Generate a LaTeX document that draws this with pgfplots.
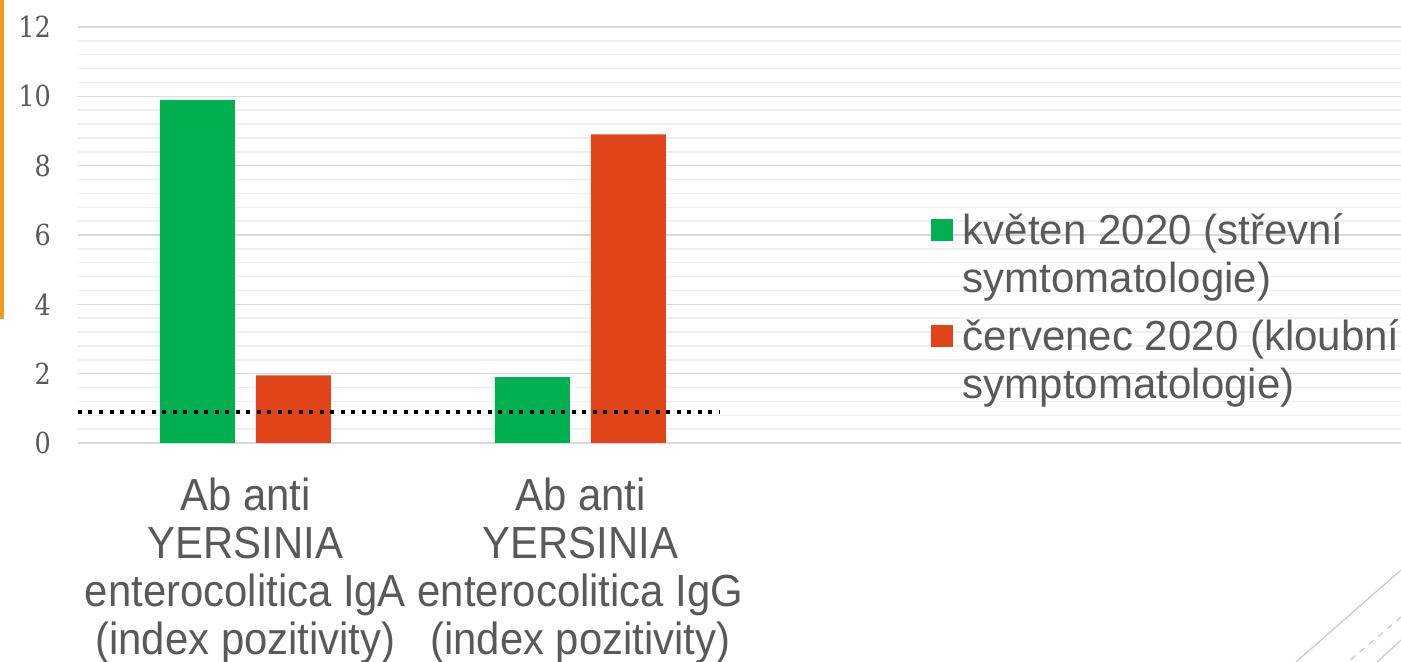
\documentclass[border=0pt]{standalone}
\usepackage{pgfplots}
\pgfplotsset{compat=1.18}
\usepackage{fontspec}
\setmainfont{Liberation Sans}
\newfontfamily\labelfont[FakeStretch=0.93]{Liberation Sans}
\newfontfamily\tickfont[FakeStretch=0.88]{DejaVu Serif}
\definecolor{cgreen}{HTML}{00B050}
\definecolor{cred}{HTML}{E2441A}
\definecolor{ctext}{HTML}{595959}
\definecolor{gmaj}{HTML}{D9D9D9}
\definecolor{gmin}{HTML}{EFEFEF}
\definecolor{corange}{HTML}{F39A1E}
\definecolor{deco}{HTML}{C8C8C8}
\begin{document}
\begin{tikzpicture}
\path[use as bounding box] (0,0) rectangle (700.5pt,331pt);
\begin{axis}[
  at={(39pt,109.5pt)}, anchor=south west,
  scale only axis, width=661.5pt, height=208pt,
  xmin=-0.5, xmax=3.45, ymin=0, ymax=12,
  axis line style={draw=none},
  ytick={0,2,...,12}, minor y tick num=4,
  ymajorgrids, yminorgrids,
  major grid style={gmaj, line width=0.75pt},
  minor grid style={gmin, line width=0.75pt},
  major tick length=0pt, minor tick length=0pt,
  xtick={0,1},
  xticklabels={{Ab anti\\YERSINIA\\enterocolitica IgA\\(index pozitivity)},{Ab anti\\YERSINIA\\enterocolitica IgG\\(index pozitivity)}},
  xticklabel style={align=center, font=\labelfont\fontsize{22.5}{24}\selectfont, text=ctext, anchor=north, yshift=-14pt},
  yticklabel style={font=\tickfont\fontsize{14.5}{17}\selectfont, text=ctext, anchor=east, xshift=-10pt,
    /pgf/number format/assume math mode=true},
  legend style={at={(0.6447,0.568)}, anchor=north west, draw=none, fill=none,
    font=\fontsize{21}{24}\selectfont, text=ctext,
    cells={anchor=base west}, row sep=31pt, column sep=3pt, inner sep=0pt, outer sep=0pt},
  legend image code/.code={\fill[#1] (0pt,1.75pt) rectangle (11pt,12.75pt);},
  clip=false,
]
\addplot[ybar, bar width=37.5pt, bar shift=-24pt, fill=cgreen, draw=none] coordinates {(0,9.9) (1,1.9)};
\addlegendentry{\begin{tabular}[t]{@{}l@{}}květen 2020 (střevní\\symtomatologie)\end{tabular}}
\addplot[ybar, bar width=37.5pt, bar shift=24pt, fill=cred, draw=none] coordinates {(0,1.95) (1,8.9)};
\addlegendentry{\begin{tabular}[t]{@{}l@{}}červenec 2020 (kloubní\\symptomatologie)\end{tabular}}
\addplot[black, line width=2pt, dash pattern=on 2pt off 3.25pt, forget plot] coordinates {(-0.5,0.9) (1.418,0.9)};
\end{axis}
\fill[corange] (0,331pt) rectangle (1.75pt,171.5pt);
\draw[deco, line width=0.6pt] (700.5pt,46pt) -- (648pt,0pt);
\draw[deco, line width=0.6pt, dash pattern=on 3pt off 3pt] (700.5pt,22.5pt) -- (674pt,0pt);
\draw[deco, line width=0.6pt] (700.5pt,11pt) -- (688.5pt,0pt);
\end{tikzpicture}
\end{document}
